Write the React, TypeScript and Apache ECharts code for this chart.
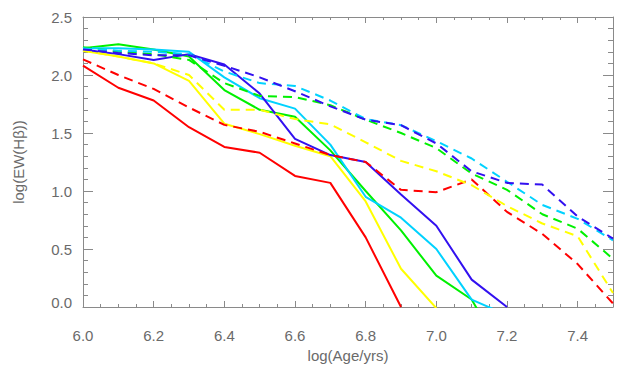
import React, { useEffect, useRef } from "react";
import * as echarts from "echarts";

// log(Age/yrs) sample points
const ages = [6.0, 6.1, 6.2, 6.3, 6.4, 6.5, 6.6, 6.7, 6.8, 6.9, 7.0, 7.1, 7.2, 7.3, 7.4, 7.5];

// Solid lines
const solidRed = [2.08, 1.89, 1.78, 1.55, 1.38, 1.33, 1.13, 1.07, 0.6, 0.0];
const solidYellow = [2.21, 2.16, 2.1, 1.95, 1.58, 1.49, 1.39, 1.3, 0.91, 0.33, -0.01];
const solidGreen = [2.23, 2.265, 2.22, 2.16, 1.87, 1.7, 1.64, 1.35, 1.0, 0.66, 0.27, 0.065, -0.47];
const solidCyan = [2.23, 2.23, 2.22, 2.2, 1.98, 1.8, 1.71, 1.4, 0.95, 0.77, 0.5, 0.064, -0.07];
const solidBlue = [2.22, 2.18, 2.13, 2.18, 2.09, 1.84, 1.45, 1.31, 1.25, 0.97, 0.7, 0.236, 0.0];

// Dashed lines
const dashRed = [2.135, 2.0, 1.88, 1.72, 1.57, 1.51, 1.41, 1.31, 1.25, 1.01, 0.99, 1.1, 0.82, 0.63, 0.37, 0.03];
const dashYellow = [2.21, 2.16, 2.1, 2.0, 1.7, 1.7, 1.62, 1.575, 1.42, 1.26, 1.17, 1.05, 0.87, 0.72, 0.61, 0.12];
const dashGreen = [2.24, 2.2, 2.18, 2.13, 1.93, 1.82, 1.81, 1.74, 1.615, 1.5, 1.37, 1.15, 1.01, 0.8, 0.675, 0.415];
const dashCyan = [2.23, 2.21, 2.2, 2.18, 2.03, 1.93, 1.905, 1.78, 1.62, 1.567, 1.43, 1.28, 1.08, 0.88, 0.76, 0.575];
const dashBlue = [2.22, 2.19, 2.17, 2.17, 2.08, 1.98, 1.86, 1.73, 1.615, 1.567, 1.41, 1.17, 1.07, 1.055, 0.78, 0.59];

const RED = "#ff0000";
const YELLOW = "#ffff00";
const GREEN = "#00f000";
const CYAN = "#00d2ff";
const BLUE = "#3210f0";

const AXIS = "#8a8a8a";
const TEXT = "#6a6a6a";
const FONT = "Liberation Sans";

const pairs = (vals: number[]) => vals.map((v, i) => [ages[i], v]);

export default function App() {
  const ref = useRef<HTMLDivElement>(null);
  useEffect(() => {
    if (!ref.current) return;
    const chart = echarts.init(ref.current, null, { renderer: "svg" });
    const mk = (name: string, vals: number[], color: string, dashed: boolean) => ({
      name,
      type: "line",
      data: pairs(vals),
      showSymbol: false,
      symbol: "none",
      clip: true,
      lineStyle: { color, width: 2, type: dashed ? [9, 6] : "solid" },
      silent: true,
    });
    const xMajor = (pos: string, labels: boolean) => ({
      type: "value",
      position: pos,
      min: 6,
      max: 7.5,
      interval: 0.2,
      axisLine: { show: true, onZero: false, lineStyle: { color: AXIS, width: 1 } },
      axisTick: { show: true, inside: true, length: 6, lineStyle: { color: AXIS } },
      axisLabel: {
        show: labels,
        margin: 21,
        color: TEXT,
        fontSize: 15,
        fontFamily: FONT,
        formatter: (v: number) => (v > 7.45 ? "" : v.toFixed(1)),
      },
      splitLine: { show: false },
      ...(labels
        ? {
            name: "log(Age/yrs)",
            nameLocation: "middle",
            nameGap: 37,
            nameTextStyle: { color: TEXT, fontSize: 15, fontFamily: FONT },
          }
        : {}),
    });
    const xMinor = (pos: string) => ({
      type: "value",
      position: pos,
      min: 6,
      max: 7.5,
      interval: 0.05,
      axisLine: { show: false, onZero: false },
      axisTick: { show: true, inside: true, length: 3, lineStyle: { color: AXIS } },
      axisLabel: { show: false },
      splitLine: { show: false },
    });
    const yAx = (pos: string, labels: boolean) => ({
      type: "value",
      position: pos,
      min: 0,
      max: 2.5,
      interval: 0.5,
      axisLine: { show: true, onZero: false, lineStyle: { color: AXIS, width: 1 } },
      axisTick: { show: true, inside: true, length: 10, lineStyle: { color: AXIS } },
      minorTick: { show: true, splitNumber: 5, length: 5, lineStyle: { color: AXIS } },
      axisLabel: {
        show: labels,
        margin: 11,
        color: TEXT,
        fontSize: 15,
        fontFamily: FONT,
        formatter: (v: number) => (v === 0 ? "{lo|0.0}" : v.toFixed(1)),
        rich: { lo: { color: TEXT, fontSize: 15, fontFamily: FONT, padding: [0, 0, 9, 0] } },
      },
      splitLine: { show: false },
      ...(labels
        ? {
            name: "log(EW(Hβ))",
            nameLocation: "middle",
            nameGap: 57,
            nameRotate: 90,
            nameTextStyle: { color: TEXT, fontSize: 15, fontFamily: FONT },
          }
        : {}),
    });
    chart.setOption({
      animation: false,
      backgroundColor: "#ffffff",
      grid: { left: 83, right: 10, top: 17, bottom: 67, containLabel: false },
      xAxis: [xMajor("bottom", true), xMinor("bottom"), xMajor("top", false), xMinor("top")],
      yAxis: [yAx("left", true), yAx("right", false)],
      series: [
        mk("solidRed", solidRed, RED, false),
        mk("solidYellow", solidYellow, YELLOW, false),
        mk("solidGreen", solidGreen, GREEN, false),
        mk("solidCyan", solidCyan, CYAN, false),
        mk("solidBlue", solidBlue, BLUE, false),
        mk("dashRed", dashRed, RED, true),
        mk("dashYellow", dashYellow, YELLOW, true),
        mk("dashGreen", dashGreen, GREEN, true),
        mk("dashCyan", dashCyan, CYAN, true),
        mk("dashBlue", dashBlue, BLUE, true),
      ],
    });
    return () => chart.dispose();
  }, []);
  return (
    <div
      ref={ref}
      style={{ position: "fixed", left: 0, top: 0, width: 623, height: 374, background: "#fff" }}
    />
  );
}
